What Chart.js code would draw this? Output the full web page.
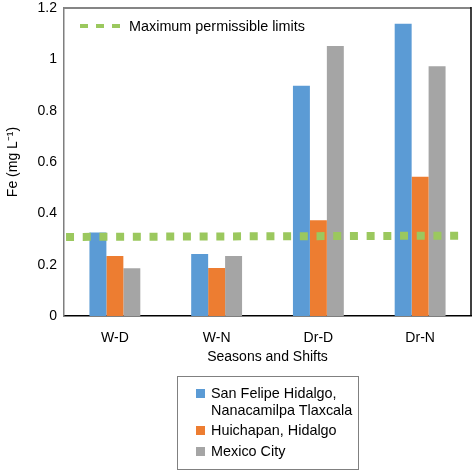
<!DOCTYPE html>
<html>
<head>
<meta charset="utf-8">
<script src="https://cdn.jsdelivr.net/npm/chart.js@4.4.1/dist/chart.umd.min.js"></script>
<style>
  html, body { margin: 0; padding: 0; background: #fff; }
  #wrap { position: relative; width: 473px; height: 471px; font-family: "Liberation Sans", Arial, sans-serif; }
  #c, #c2 { position: absolute; left: 0; top: 0; }
  #innerLegend { position: absolute; left: 80px; top: 18px; display: flex; align-items: center; font-size: 14.4px; color: #000; white-space: nowrap; }
  #innerLegend svg { margin-right: 6px; }
  #legendBox { position: absolute; left: 177px; top: 376px; width: 182px; height: 94px; border: 1px solid #808080; box-sizing: border-box; font-size: 14.4px; color: #000; }
  .item { position: absolute; left: 18px; display: flex; align-items: flex-start; line-height: 17px; }
  .sw { width: 9px; height: 9px; margin-right: 6px; margin-top: 4px; flex: none; }
</style>
</head>
<body>
<div id="wrap">
  <canvas id="c" width="473" height="471"></canvas>
  <canvas id="c2" width="473" height="471"></canvas>
  <div id="innerLegend"></div>
  <div id="legendBox"></div>
</div>
<script>
const categories = ["W-D", "W-N", "Dr-D", "Dr-N"];
const seriesNames = ["San Felipe Hidalgo,\nNanacamilpa Tlaxcala", "Huichapan, Hidalgo", "Mexico City"];
const sanFelipe = [0.325, 0.242, 0.897, 1.139];
const huichapan = [0.234, 0.187, 0.373, 0.543];
const mexicoCity = [0.186, 0.234, 1.052, 0.973];
const limitName = "Maximum permissible limits";
const limitX = [0.02, 3.88];
const limitY = [0.308, 0.313];
const yTicks = [0, 0.2, 0.4, 0.6, 0.8, 1, 1.2];
const colors = ["#5B9BD5", "#ED7D31", "#A5A5A5"];
const limitColor = "#9BC85E";

const FONT = "'Liberation Sans', Arial, sans-serif";
const Y_MIN = 0, Y_MAX = 1.2;

const frame = {
  id: 'frame',
  afterDatasetsDraw(chart) {
    const a = chart.chartArea, ctx = chart.ctx;
    ctx.save();
    ctx.strokeStyle = '#858585';
    ctx.lineWidth = 2;
    ctx.beginPath();
    ctx.moveTo(a.left, a.top);
    ctx.lineTo(a.right, a.top);
    ctx.stroke();
    ctx.strokeStyle = '#000';
    ctx.lineWidth = 1.5;
    ctx.beginPath();
    ctx.moveTo(a.right, a.top - 1);
    ctx.lineTo(a.right, a.bottom);
    ctx.stroke();
    ctx.restore();
  }
};

const barSets = [sanFelipe, huichapan, mexicoCity].map((d, i) => ({
  label: seriesNames[i],
  data: d,
  backgroundColor: colors[i],
  borderWidth: 0,
  categoryPercentage: 0.5,
  barPercentage: 1.0
}));

const chart1 = new Chart(document.getElementById('c'), {
  type: 'bar',
  data: { labels: categories, datasets: barSets },
  plugins: [frame],
  options: {
    responsive: false,
    animation: false,
    devicePixelRatio: 1,
    layout: { padding: { top: 8, right: 2, bottom: 105, left: 0 } },
    plugins: { legend: { display: false }, tooltip: { enabled: false } },
    scales: {
      x: {
        type: 'category',
        offset: true,
        grid: { display: false, drawTicks: false },
        border: { color: '#000', width: 1.5 },
        ticks: { color: '#000', font: { family: FONT, size: 14 }, padding: 14 },
        title: { display: true, text: 'Seasons and Shifts', color: '#000', font: { family: FONT, size: 14 }, padding: { top: 0, bottom: 0 } },
        afterFit(s) { s.height = 50; s.paddingLeft = 0; s.paddingRight = 0; }
      },
      y: {
        min: Y_MIN, max: Y_MAX,
        afterBuildTicks(s) { s.ticks = yTicks.map(v => ({ value: v })); },
        grid: { display: false, drawTicks: false },
        border: { color: '#7f7f7f', width: 1.5 },
        ticks: { color: '#000', font: { family: FONT, size: 14 }, padding: 7, callback: v => String(v) },
        title: { display: true, text: 'Fe (mg L\u207B\u00B9)', color: '#000', font: { family: FONT, size: 14 }, padding: { top: 5, bottom: 4 } },
        afterFit(s) { s.width = 64; s.paddingTop = 0; s.paddingBottom = 0; }
      }
    }
  }
});

// Overlay chart for the limit line, sharing the same plot area
const a = chart1.chartArea;
new Chart(document.getElementById('c2'), {
  type: 'line',
  data: {
    datasets: [{
      label: limitName,
      data: limitX.map((x, i) => ({ x: x, y: limitY[i] })),
      borderColor: limitColor,
      borderWidth: 8,
      borderDash: [8, 8.7],
      borderCapStyle: 'butt',
      pointRadius: 0,
      fill: false
    }]
  },
  options: {
    responsive: false,
    animation: false,
    devicePixelRatio: 1,
    layout: { padding: { top: a.top, left: a.left, right: 473 - a.right, bottom: 471 - a.bottom } },
    plugins: { legend: { display: false }, tooltip: { enabled: false } },
    scales: {
      x: { type: 'linear', display: false, min: 0, max: categories.length },
      y: { type: 'linear', display: false, min: Y_MIN, max: Y_MAX }
    }
  }
});

// Inner legend (limit line)
const il = document.getElementById('innerLegend');
il.innerHTML = '<svg width="43" height="8"><line x1="0" y1="4" x2="43" y2="4" stroke="' + limitColor + '" stroke-width="4" stroke-dasharray="8 8"/></svg><span>' + limitName + '</span>';

// Bottom legend
const lb = document.getElementById('legendBox');
const tops = [8, 45, 66];
seriesNames.forEach((n, i) => {
  const d = document.createElement('div');
  d.className = 'item';
  d.style.top = tops[i] + 'px';
  d.innerHTML = '<div class="sw" style="background:' + colors[i] + '"></div><div>' + n.replace('\n', '<br>') + '</div>';
  lb.appendChild(d);
});
</script>
</body>
</html>
